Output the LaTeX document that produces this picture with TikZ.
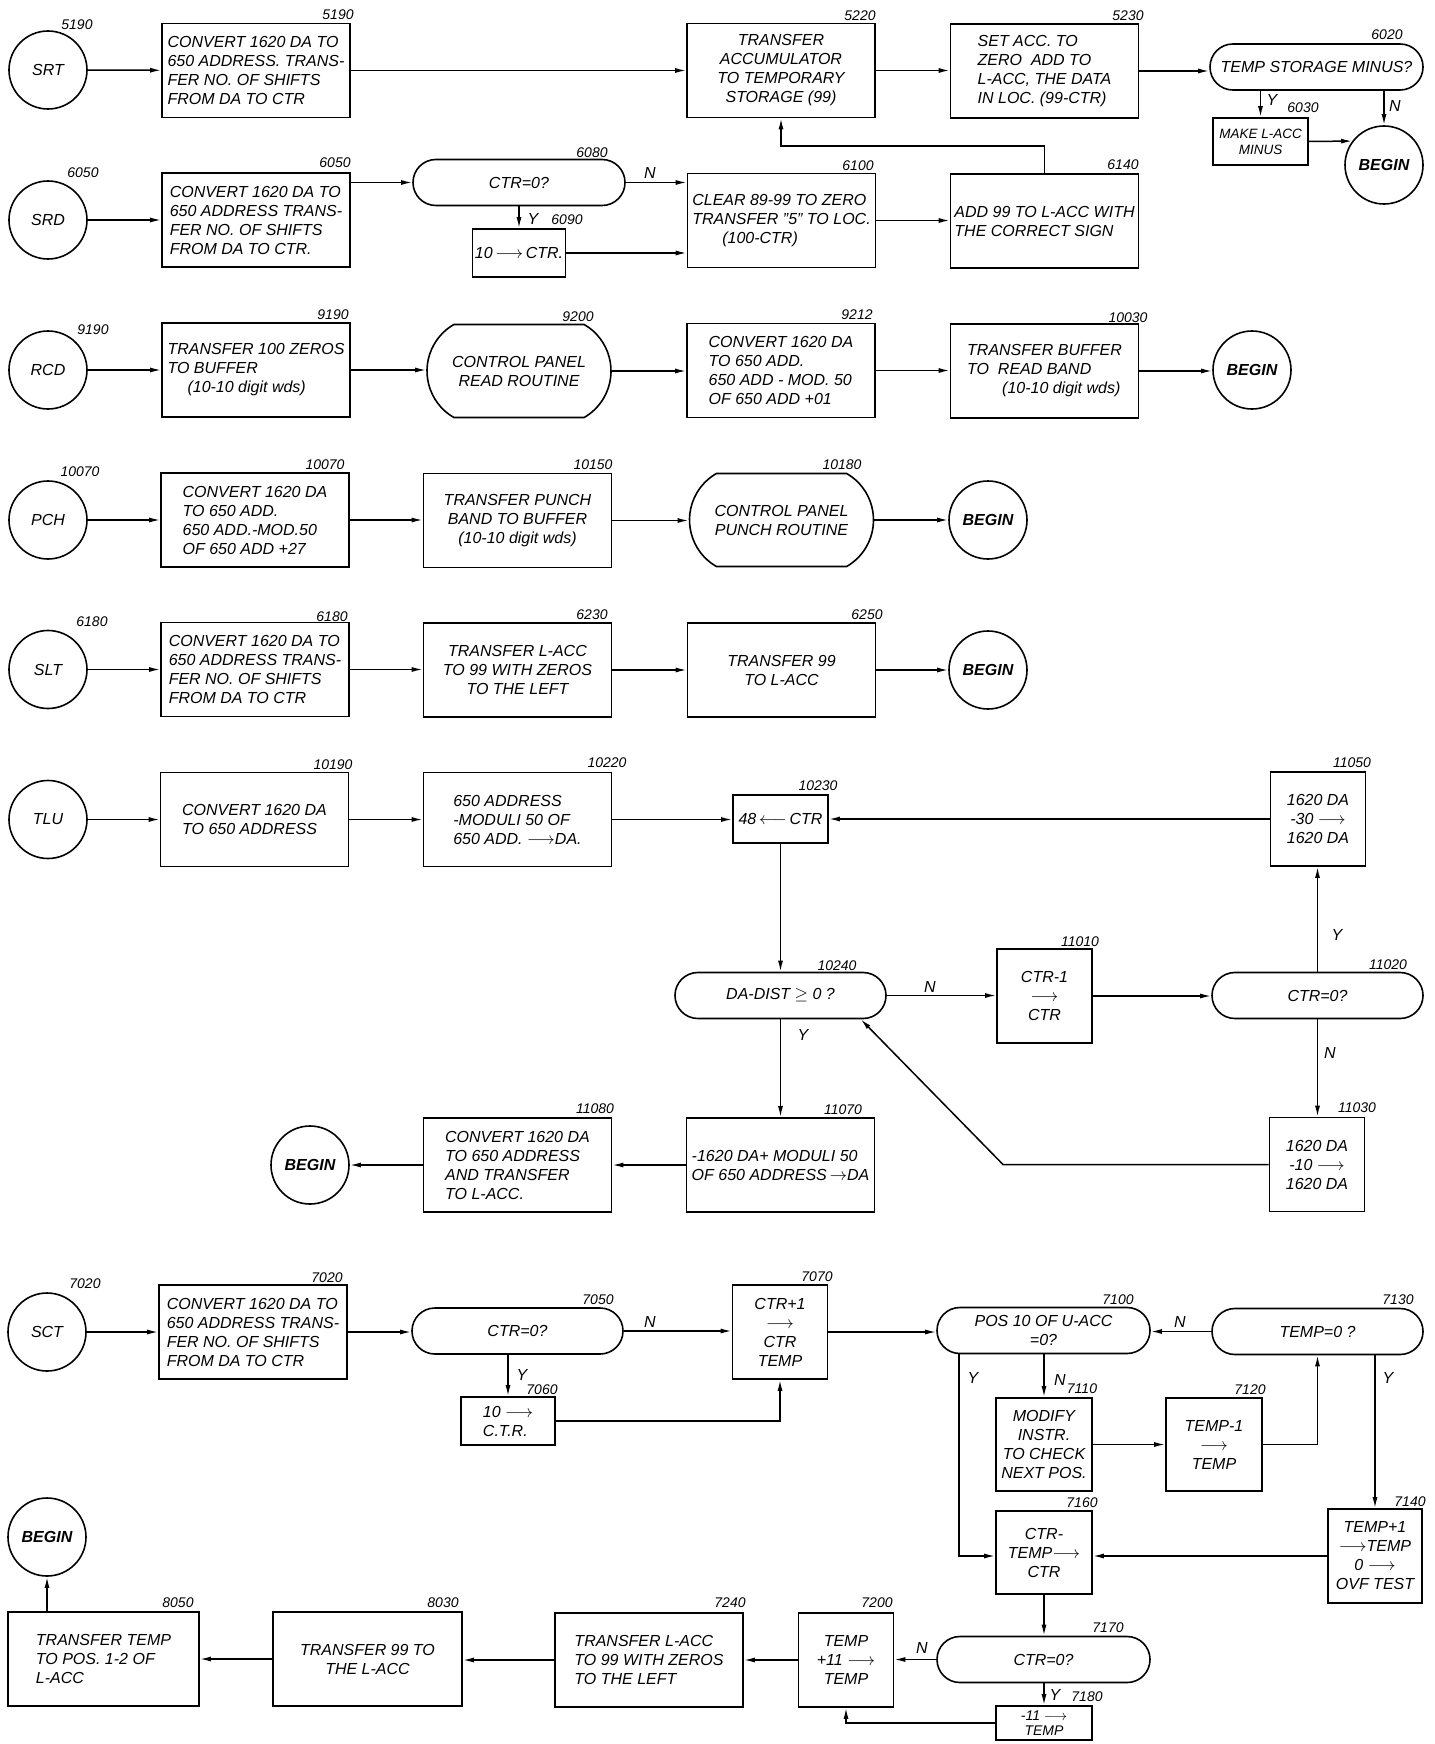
\documentclass[tikz,border=0pt]{standalone}
\usepackage{fontspec}
\setmainfont{Liberation Sans}
\usetikzlibrary{arrows.meta,shapes.misc,calc}
\begin{document}
\begin{tikzpicture}[x=1pt,y=-1pt,
  every node/.style={font=\fontsize{16}{19}\selectfont\itshape},
  box/.style={draw,line width=1.6pt,rectangle,inner sep=2pt},
  bigbox/.style={box,minimum width=188pt,minimum height=94pt,align=left},
  sbox/.style={box,minimum width=95pt,minimum height=94pt,align=center},
  tbox/.style={box,minimum width=93pt,minimum height=48pt,align=center},
  dec/.style={draw,line width=1.6pt,rectangle,rounded corners=22.9pt,minimum width=212pt,minimum height=46pt,align=center,inner sep=1pt},
  rout/.style={draw,line width=1.6pt,rounded rectangle,rounded rectangle arc length=120,minimum width=188pt,minimum height=93pt,align=center,inner sep=2pt},
  term/.style={draw,line width=1.6pt,circle,minimum size=78pt,inner sep=0pt},
  bterm/.style={term,font=\fontsize{16}{18}\selectfont\itshape\bfseries},
  num/.style={font=\fontsize{14}{16}\selectfont\itshape,inner sep=0pt},
  yn/.style={font=\fontsize{16}{16}\selectfont\itshape,inner sep=0pt},
  arr/.style={line width=1.5pt,-{Latex[length=11pt,width=5pt]}},
]
\fill[white] (0,0) rectangle (1434,1744);
\useasboundingbox (0,0) rectangle (1434,1744);

% ---------------- Row 1: SRT
\node[term] (srt) at (48,70) {SRT};
\node[bigbox] (b5190) at (256,70.5) {CONVERT 1620 DA TO\\650 ADDRESS. TRANS-\\FER NO. OF SHIFTS\\FROM DA TO CTR};
\node[bigbox,align=center] (b5220) at (781,70.5) {TRANSFER\\ACCUMULATOR\\TO TEMPORARY\\STORAGE (99)};
\node[bigbox] (b5230) at (1044.5,71) {SET ACC. TO\\ZERO \ ADD TO\\L-ACC, THE DATA\\IN LOC. (99-CTR)};
\node[dec,minimum width=213pt] (d6020) at (1316.5,67) {TEMP STORAGE MINUS?};
\node[tbox,minimum width=95pt,minimum height=47pt,font=\fontsize{13.5}{16}\selectfont\itshape] (b6030) at (1260.5,141.5) {MAKE L-ACC\\MINUS};
\node[bterm] (beg1) at (1384,165) {BEGIN};

\node[num] (l5190a) at (77,25) {5190};
\node[num] (l5190b) at (338,15) {5190};
\node[num] (l5220) at (860,16) {5220};
\node[num] (l5230) at (1128,16) {5230};
\node[num] (l6020) at (1387,35) {6020};
\node[yn] (y6030) at (1272,100) {Y};
\node[num] (l6030) at (1303,108) {6030};
\node[yn] (n6020) at (1395,106) {N};

\draw[arr] (srt) -- (b5190);
\draw[arr] (b5190.east) -- (b5190.east -| b5220.west);
\draw[arr] (b5220.east) -- (b5220.east -| b5230.west);
\draw[arr] (b5230.east) -- (b5230.east -| d6020.west);
\draw[arr] (b6030.north |- d6020.south) -- (b6030.north);
\draw[arr] (beg1.north |- d6020.south) -- (beg1.north);
\draw[arr] (b6030.east) -- (beg1.143);

% ---------------- Row 2: SRD
\node[term] (srd) at (48,220) {SRD};
\node[bigbox] (b6050) at (256,220) {CONVERT 1620 DA TO\\650 ADDRESS TRANS-\\FER NO. OF SHIFTS\\FROM DA TO CTR.};
\node[dec] (d6080) at (519,182.5) {CTR=0?};
\node[tbox] (b6090) at (519,253) {10\,$\longrightarrow$\,CTR.};
\node[bigbox] (b6100) at (781.5,220.5) {CLEAR 89-99 TO ZERO\\TRANSFER "5" TO LOC.\\\hspace*{30pt}(100-CTR)};
\node[bigbox] (b6140) at (1044.5,221) {ADD 99 TO L-ACC WITH\\THE CORRECT SIGN};

\node[num] (l6050a) at (83,173) {6050};
\node[num] (l6050b) at (335,163) {6050};
\node[num] (l6080) at (592,153) {6080};
\node[num] (l6100) at (858,166) {6100};
\node[num] (l6140) at (1123,165) {6140};
\node[yn] (n6080) at (650,173) {N};
\node[yn] (y6090) at (533,219) {Y};
\node[num] (l6090) at (567,220) {6090};

\draw[arr] (srd) -- (b6050);
\draw[arr] (b6050.east |- d6080.west) -- (d6080.west);
\draw[arr] (d6080.east) -- (d6080.east -| b6100.west);
\draw[arr] (d6080.south) -- (b6090.north);
\draw[arr] (b6090.east) -- (b6090.east -| b6100.west);
\draw[arr] (b6100.east) -- (b6100.east -| b6140.west);
\coordinate (j1) at (781,146);
\draw[arr] (b6140.north) |- (j1) -- (b5220.south);

% ---------------- Row 3: RCD
\node[term] (rcd) at (48,370) {RCD};
\node[bigbox] (b9190) at (256,370) {TRANSFER 100 ZEROS\\TO BUFFER\\\hspace*{20pt}(10-10 digit wds)};
\node[rout] (r9200) at (519,371) {CONTROL PANEL\\READ ROUTINE};
\node[bigbox] (b9212) at (781,370.5) {CONVERT 1620 DA\\TO 650 ADD.\\650 ADD - MOD. 50\\OF 650 ADD +01};
\node[bigbox] (b10030) at (1044.5,371) {TRANSFER BUFFER\\TO \ READ BAND\\\hspace*{35pt}(10-10 digit wds)};
\node[bterm] (beg2) at (1252,370) {BEGIN};

\node[num] (l9190a) at (93,330) {9190};
\node[num] (l9190b) at (333,315) {9190};
\node[num] (l9200) at (578,317) {9200};
\node[num] (l9212) at (857,315) {9212};
\node[num] (l10030) at (1128,318) {10030};

\draw[arr] (rcd) -- (b9190);
\draw[arr] (b9190.east) -- (b9190.east -| r9200.west);
\draw[arr] (r9200.east) -- (r9200.east -| b9212.west);
\draw[arr] (b9212.east) -- (b9212.east -| b10030.west);
\draw[arr] (b10030.east) -- (b10030.east -| beg2.west);

% ---------------- Row 4: PCH
\node[term] (pch) at (48,520) {PCH};
\node[bigbox] (b10070) at (255,520) {CONVERT 1620 DA\\TO 650 ADD.\\650 ADD.-MOD.50\\OF 650 ADD +27};
\node[bigbox,align=center] (b10150) at (517.5,520.5) {TRANSFER PUNCH\\BAND TO BUFFER\\(10-10 digit wds)};
\node[rout] (r10180) at (781.5,520) {CONTROL PANEL\\PUNCH ROUTINE};
\node[bterm] (beg3) at (988,520) {BEGIN};

\node[num] (l10070a) at (80,472) {10070};
\node[num] (l10070b) at (325,465) {10070};
\node[num] (l10150) at (593,465) {10150};
\node[num] (l10180) at (842,465) {10180};

\draw[arr] (pch) -- (b10070);
\draw[arr] (b10070.east) -- (b10070.east -| b10150.west);
\draw[arr] (b10150.east) -- (b10150.east -| r10180.west);
\draw[arr] (r10180.east) -- (r10180.east -| beg3.west);

% ---------------- Row 5: SLT
\node[term] (slt) at (48,669.5) {SLT};
\node[bigbox] (b6180) at (255,669.5) {CONVERT 1620 DA TO\\650 ADDRESS TRANS-\\FER NO. OF SHIFTS\\FROM DA TO CTR};
\node[bigbox,align=center] (b6230) at (517.5,670) {TRANSFER L-ACC\\TO 99 WITH ZEROS\\TO THE LEFT};
\node[bigbox,align=center] (b6250) at (781.5,670) {TRANSFER 99\\TO L-ACC};
\node[bterm] (beg4) at (988,670) {BEGIN};

\node[num] (l6180a) at (92,622) {6180};
\node[num] (l6180b) at (332,617) {6180};
\node[num] (l6230) at (592,615) {6230};
\node[num] (l6250) at (867,615) {6250};

\draw[arr] (slt) -- (b6180);
\draw[arr] (b6180.east) -- (b6180.east -| b6230.west);
\draw[arr] (b6230.east) -- (b6230.east -| b6250.west);
\draw[arr] (b6250.east) -- (b6250.east -| beg4.west);

% ---------------- Row 6: TLU
\node[term] (tlu) at (48,819.5) {TLU};
\node[bigbox] (b10190) at (254.5,819.5) {CONVERT 1620 DA\\TO 650 ADDRESS};
\node[bigbox] (b10220) at (517.5,819.5) {650 ADDRESS\\-MODULI 50 OF\\650 ADD. $\longrightarrow$DA.};
\node[tbox,minimum width=95pt] (b10230) at (780.5,819) {48\,$\longleftarrow$\,CTR};
\node[sbox] (b11050) at (1318,819) {1620 DA\\-30 $\longrightarrow$\\1620 DA};
\node[dec,minimum width=211pt] (d10240) at (780.5,995.5) {DA-DIST $\geq$ 0 ?};
\node[sbox] (b11010) at (1044.5,996) {CTR-1\\$\longrightarrow$\\CTR};
\node[dec,minimum width=211pt] (d11020) at (1317.5,995.5) {CTR=0?};
\node[sbox] (b11030) at (1317,1164.5) {1620 DA\\-10 $\longrightarrow$\\1620 DA};
\node[bigbox] (b11070) at (780.5,1165) {-1620 DA+ MODULI 50\\OF 650 ADDRESS$\,\rightarrow$DA};
\node[bigbox] (b11080) at (517.5,1165) {CONVERT 1620 DA\\TO 650 ADDRESS\\AND TRANSFER\\TO L-ACC.};
\node[bterm] (beg5) at (310,1165) {BEGIN};

\node[num] (l10190) at (333,765) {10190};
\node[num] (l10220) at (607,763) {10220};
\node[num] (l10230) at (818,786) {10230};
\node[num] (l11050) at (1352,763) {11050};
\node[num] (l10240) at (837,966) {10240};
\node[num] (l11010) at (1080,942) {11010};
\node[num] (l11020) at (1388,965) {11020};
\node[num] (l11030) at (1357,1108) {11030};
\node[num] (l11070) at (843,1110) {11070};
\node[num] (l11080) at (595,1109) {11080};
\node[yn] (n10240) at (930,987) {N};
\node[yn] (y10240) at (803,1035) {Y};
\node[yn] (y11020) at (1337,935) {Y};
\node[yn] (n11020) at (1330,1053) {N};

\draw[arr] (tlu) -- (b10190);
\draw[arr] (b10190.east) -- (b10190.east -| b10220.west);
\draw[arr] (b10220.east) -- (b10220.east -| b10230.west);
\draw[arr] (b11050.west) -- (b11050.west -| b10230.east);
\draw[arr] (b10230.south) -- (d10240.north);
\draw[arr] (d10240.east) -- (d10240.east -| b11010.west);
\draw[arr] (b11010.east) -- (b11010.east -| d11020.west);
\draw[arr] (d11020.north) -- (d11020.north |- b11050.south);
\draw[arr] (d11020.south) -- (d11020.south |- b11030.north);
\coordinate (j2) at (1003,1164.5);
\draw[arr] (b11030.west) -- (j2) -- ($(d10240.south east)+(-26,0)$);
\draw[arr] (d10240.south) -- (b11070.north);
\draw[arr] (b11070.west) -- (b11070.west -| b11080.east);
\draw[arr] (b11080.west) -- (beg5.east);

% ---------------- Row 7: SCT
\node[term] (sct) at (47,1332) {SCT};
\node[bigbox] (b7020) at (253,1332) {CONVERT 1620 DA TO\\650 ADDRESS TRANS-\\FER NO. OF SHIFTS\\FROM DA TO CTR};
\node[dec,minimum width=211pt] (d7050) at (517.5,1331) {CTR=0?};
\node[tbox,minimum width=94pt,align=left] (b7060) at (508,1421) {10 $\longrightarrow$\\C.T.R.};
\node[sbox] (b7070) at (780,1332) {CTR+1\\$\longrightarrow$\\CTR\\TEMP};
\node[dec,minimum width=213pt] (d7100) at (1043.5,1330.5) {POS 10 OF U-ACC\\=0?};
\node[dec,minimum width=211pt] (d7130) at (1317.5,1331.5) {TEMP=0 ?};
\node[sbox,minimum width=96pt,minimum height=93pt] (b7110) at (1044,1444.5) {MODIFY\\INSTR.\\TO CHECK\\NEXT POS.};
\node[sbox,minimum width=96pt,minimum height=93pt] (b7120) at (1214,1444.5) {TEMP-1\\$\longrightarrow$\\TEMP};
\node[sbox,minimum width=94pt] (b7140) at (1375,1556) {TEMP+1\\$\longrightarrow$TEMP\\0 $\longrightarrow$\\OVF TEST};
\node[sbox,minimum width=96pt,minimum height=83pt] (b7160) at (1044,1552.5) {CTR-\\TEMP$\longrightarrow$\\CTR};
\node[dec,minimum width=213pt] (d7170) at (1043.5,1659.5) {CTR=0?};
\node[box,minimum width=96pt,minimum height=34pt,align=center,inner sep=0pt,font=\fontsize{14}{15}\selectfont\itshape] (b7180) at (1044,1723) {-11 $\longrightarrow$\\TEMP};
\node[sbox] (b7200) at (846,1660) {TEMP\\+11 $\longrightarrow$\\TEMP};
\node[bigbox] (b7240) at (649,1660) {TRANSFER L-ACC\\TO 99 WITH ZEROS\\TO THE LEFT};
\node[bigbox,align=center,minimum width=189pt] (b8030) at (367.5,1659) {TRANSFER 99 TO\\THE L-ACC};
\node[bigbox,minimum width=191pt] (b8050) at (103.5,1659) {TRANSFER TEMP\\TO POS. 1-2 OF\\L-ACC};
\node[bterm] (beg6) at (47,1537) {BEGIN};

\node[num] (l7020a) at (85,1284) {7020};
\node[num] (l7020b) at (327,1278) {7020};
\node[num] (l7050) at (598,1300) {7050};
\node[num] (l7060) at (542,1390) {7060};
\node[num] (l7070) at (817,1277) {7070};
\node[num] (l7100) at (1118,1300) {7100};
\node[num] (l7130) at (1398,1300) {7130};
\node[num] (l7110) at (1082,1389) {7110};
\node[num] (l7120) at (1250,1390) {7120};
\node[num] (l7140) at (1410,1502) {7140};
\node[num] (l7160) at (1082,1503) {7160};
\node[num] (l7170) at (1108,1628) {7170};
\node[num] (l7180) at (1087,1697) {7180};
\node[num] (l7200) at (877,1603) {7200};
\node[num] (l7240) at (730,1603) {7240};
\node[num] (l8030) at (443,1603) {8030};
\node[num] (l8050) at (178,1603) {8050};
\node[yn] (n7050) at (650,1322) {N};
\node[yn] (y7050) at (522,1375) {Y};
\node[yn] (n7130) at (1180,1322) {N};
\node[yn] (y7100) at (973,1378) {Y};
\node[yn] (n7100) at (1060,1380) {N};
\node[yn] (y7130) at (1388,1378) {Y};
\node[yn] (y7170) at (1055,1695) {Y};
\node[yn] (n7170) at (922,1648) {N};

\draw[arr] (sct) -- (b7020);
\draw[arr] (b7020.east) -- (b7020.east -| d7050.west);
\draw[arr] (d7050.east) -- (d7050.east -| b7070.west);
\draw[arr] (b7060.north |- d7050.south) -- (b7060.north);
\draw[arr] (b7060.east) -| (b7070.south);
\draw[arr] (b7070.east) -- (b7070.east -| d7100.west);
\draw[arr] (d7130.west) -- (d7130.west -| d7100.east);
\draw[arr] ($(d7100.south west)+(23,0)$) |- (b7140.west -| b7160.west);
\draw[arr] (b7110.north |- d7100.south) -- (b7110.north);
\draw[arr] (b7110.east) -- (b7110.east -| b7120.west);
\draw[arr] (b7120.east) -| (d7130.south);
\draw[arr] (b7140.north |- d7130.south) -- (b7140.north);
\draw[arr] (b7140.west) -- (b7140.west -| b7160.east);
\draw[arr] (b7160.south) -- (b7160.south |- d7170.north);
\draw[arr] (b7180.north |- d7170.south) -- (b7180.north);
\draw[arr] (b7180.west) -| (b7200.south);
\draw[arr] (d7170.west) -- (d7170.west -| b7200.east);
\draw[arr] (b7200.west) -- (b7200.west -| b7240.east);
\draw[arr] (b7240.west) -- (b7240.west -| b8030.east);
\draw[arr] (b8030.west) -- (b8030.west -| b8050.east);
\draw[arr] (beg6.south |- b8050.north) -- (beg6.south);
\end{tikzpicture}
\end{document}
